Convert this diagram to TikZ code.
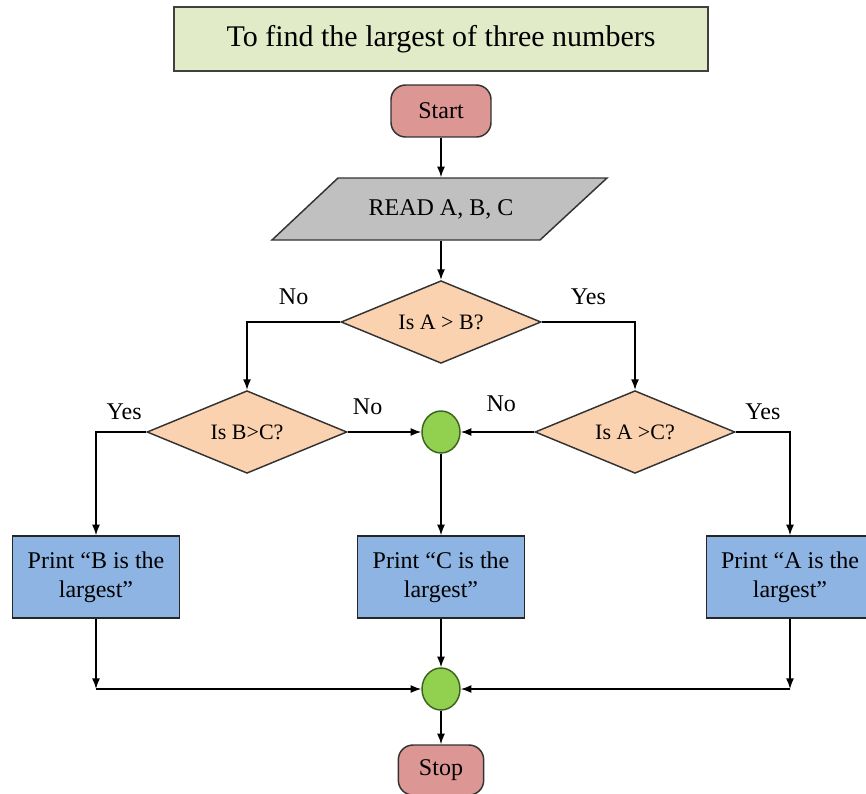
\documentclass[tikz,border=0pt]{standalone}
\usepackage{fontspec}
\setmainfont{Liberation Serif}
\usepackage{tikz}
\usetikzlibrary{
    positioning,
    arrows.meta,
    shapes.geometric,
    calc
}
\definecolor{TitleFill}{RGB}{226,235,200}
\definecolor{TermFill}{RGB}{220,150,148}
\definecolor{ReadFill}{RGB}{192,192,192}
\definecolor{AskFill}{RGB}{251,210,176}
\definecolor{PrintFill}{RGB}{141,180,226}
\definecolor{JoinFill}{RGB}{146,208,80}
\definecolor{JoinLine}{RGB}{60,100,30}

\begin{document}
\begin{tikzpicture}[
            x=0.75pt, y=-0.75pt,
            font=\fontsize{18}{22}\selectfont,
            >={Latex[length=8pt,width=6pt]},
            line width=1.1pt,
            term/.style={draw=black!80, fill=TermFill, rounded corners=11pt, inner sep=0pt},
            ask/.style={diamond, shape aspect=2.4, draw=black!80, fill=AskFill, minimum width=150pt, minimum height=62pt, inner sep=0pt, font=\fontsize{16.5}{20}\selectfont},
            printbox/.style={draw=black!85, fill=PrintFill, minimum width=125pt, minimum height=61.5pt, align=center, inner sep=0pt},
            joindot/.style={ellipse, draw=JoinLine, fill=JoinFill, minimum width=28.5pt, minimum height=31.5pt, inner sep=0pt},
        ]

        % Page frame
        \useasboundingbox (0,0) rectangle (866,793);

        % Column positions
        \def\midX{441}
        \def\leftX{96}
        \def\rightX{790}

        % Title
        \node[draw=black!75, line width=1.5pt, fill=TitleFill, minimum width=400pt, minimum height=48pt, font=\fontsize{22.5}{26}\selectfont] (title) at (\midX,39) {To find the largest of three numbers};

        % Start and input
        \node[term, minimum width=75pt, minimum height=39pt] (start) at (\midX,111) {Start};
        \draw[draw=black!80, fill=ReadFill] (272,240) -- (338,178) -- (607,178) -- (540,240) -- cycle;
        \node[minimum height=46.5pt, inner sep=0pt] (read) at (\midX,209) {READ A, B, C};

        % Decisions
        \node[ask] (q1) at (\midX,322) {Is A > B?};
        \node[ask] (q2) at (247,432) {Is B>C?};
        \node[ask] (q3) at (635,432) {Is A >C?};
        \node[joindot] (j1) at (\midX,432) {};

        % Outputs
        \node[printbox] (pb) at (\leftX,577) {Print “B is the\\largest”};
        \node[printbox] (pc) at (\midX,577) {Print “C is the\\largest”};
        \node[printbox] (pa) at (\rightX,577) {Print “A is the\\largest”};

        % Merge and stop
        \node[joindot] (j2) at (\midX,689) {};
        \node[term, minimum width=64pt, minimum height=37.5pt] (stop) at (\midX,770) {Stop};
        \coordinate (cb) at (pb |- j2);
        \coordinate (ca) at (pa |- j2);

        % Flow lines
        \draw[->] (start) -- (read);
        \draw[->] (read) -- (q1);
        \draw[->] (q1.west) -| (q2.north) node[pos=0.25, above=9pt] {No};
        \draw[->] (q1.east) -| (q3.north) node[pos=0.25, above=9pt] {Yes};
        \draw[->] (q2.east) -- (j1.west) node[pos=0.27, above=9pt] {No};
        \draw[->] (q3.west) -- (j1.east) node[pos=0.45, above=11pt] {No};
        \draw[->] (q2.west) -| (pb.north) node[pos=0.22, above=5pt] {Yes};
        \draw[->] (q3.east) -| (pa.north) node[pos=0.25, above=5pt] {Yes};
        \draw[->] (j1) -- (pc);
        \draw[->] (pb) -- (cb);
        \draw[->] (cb) -- (j2);
        \draw[->] (pa) -- (ca);
        \draw[->] (ca) -- (j2);
        \draw[->] (pc) -- (j2);
        \draw[->] (j2) -- (stop);
\end{tikzpicture}
\end{document}
